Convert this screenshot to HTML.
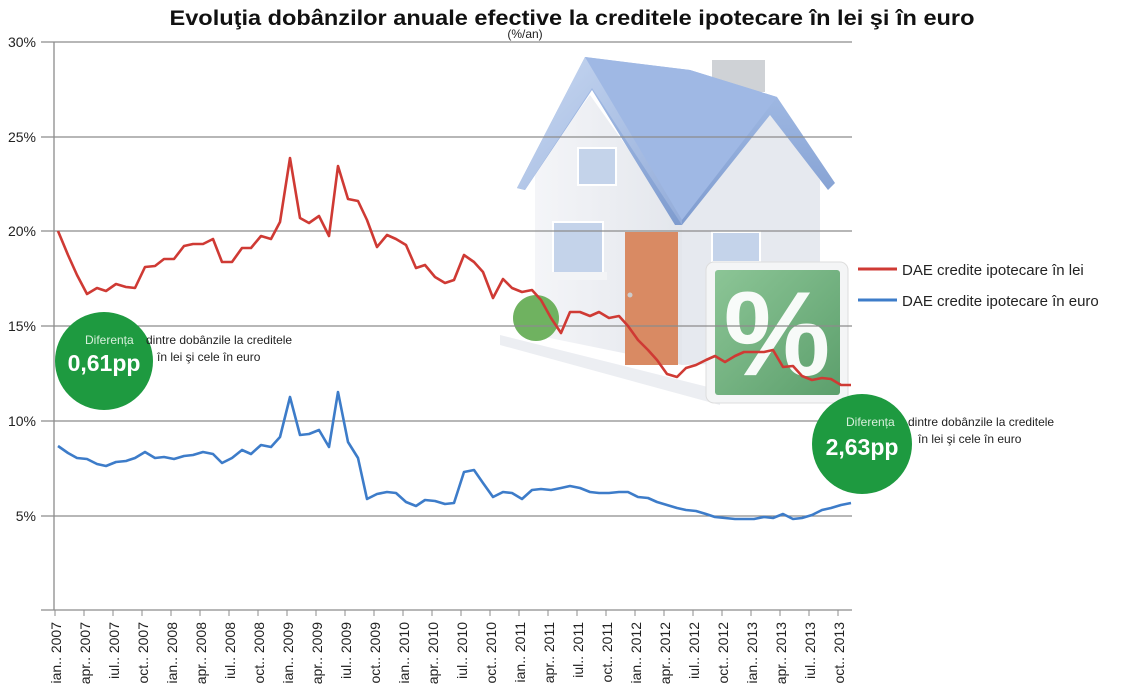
<!DOCTYPE html>
<html><head><meta charset="utf-8"><style>
html,body{margin:0;padding:0;background:#fff;}
svg{display:block;font-family:"Liberation Sans",sans-serif;}
</style></head><body>
<svg width="1127" height="700" viewBox="0 0 1127 700" xmlns="http://www.w3.org/2000/svg">
<defs>
<linearGradient id="roofL" x1="0" y1="0" x2="1" y2="1"><stop offset="0" stop-color="#c9d9f2"/><stop offset="1" stop-color="#93acd9"/></linearGradient>
<linearGradient id="roofR" x1="0" y1="0" x2="0" y2="1"><stop offset="0" stop-color="#a8c0e8"/><stop offset="1" stop-color="#7f9ccf"/></linearGradient>
<linearGradient id="grn" x1="0" y1="0" x2="1" y2="1"><stop offset="0" stop-color="#8cc596"/><stop offset="1" stop-color="#5c9f6c"/></linearGradient>
<linearGradient id="wall" x1="0" y1="0" x2="1" y2="0"><stop offset="0" stop-color="#f4f5f8"/><stop offset="1" stop-color="#e3e6ec"/></linearGradient>
</defs>
<text x="572" y="25" text-anchor="middle" font-size="21" font-weight="bold" textLength="805" lengthAdjust="spacingAndGlyphs" fill="#111">Evoluţia dobânzilor anuale efective la creditele ipotecare în lei şi în euro</text>
<text x="525" y="38" text-anchor="middle" font-size="12" fill="#222">(%/an)</text>

<!-- house -->
<g>
<polygon points="500,335 700,385 720,390 720,405 500,345" fill="#eceef2"/>
<polygon points="535,170 590,95 682,225 682,365 535,335" fill="url(#wall)"/>
<polygon points="682,225 770,110 820,180 820,360 682,365" fill="#e6e9ef"/>
<rect x="712" y="60" width="53" height="32" fill="#cfd2d6"/>
<polygon points="585,57 690,70 777,97 835,183 828,190 770,115 682,225 675,225 592,90 525,190 517,188" fill="url(#roofR)"/>
<polygon points="585,57 682,215 682,225 592,88 525,190 517,188" fill="url(#roofL)"/>
<polygon points="585,57 690,70 777,97 682,220" fill="#9fb8e4"/>
<rect x="578" y="148" width="38" height="37" fill="#c4d3ea" stroke="#fff" stroke-width="2"/>
<rect x="553" y="222" width="50" height="56" fill="#c4d3ea" stroke="#fff" stroke-width="2"/>
<rect x="547" y="272" width="60" height="8" fill="#f3f4f6"/>
<rect x="712" y="232" width="48" height="30" fill="#c4d3ea" stroke="#fff" stroke-width="2"/>
<rect x="625" y="232" width="53" height="133" fill="#d98a63"/>
<circle cx="630" cy="295" r="2.5" fill="#ccc"/>
<circle cx="536" cy="318" r="23" fill="#6fb260"/>
<rect x="706" y="262" width="142" height="141" rx="8" fill="#f4f5f6" stroke="#ddd"/>
<rect x="715" y="270" width="125" height="125" rx="3" fill="url(#grn)"/>
<text x="777" y="375" text-anchor="middle" font-size="120" font-weight="bold" fill="#fff" opacity="0.95">%</text>
</g>

<!-- grid -->
<g stroke="#8c8c8c" stroke-width="1.3">
<line x1="41" y1="42" x2="852" y2="42"/>
<line x1="41" y1="137" x2="852" y2="137"/>
<line x1="41" y1="231" x2="852" y2="231"/>
<line x1="41" y1="326" x2="852" y2="326"/>
<line x1="41" y1="421" x2="852" y2="421"/>
<line x1="41" y1="516" x2="852" y2="516"/>
<line x1="41" y1="610" x2="852" y2="610"/>
<line x1="54" y1="42" x2="54" y2="610"/>
</g>
<g font-size="14" fill="#222" text-anchor="end">
<text x="36" y="47">30%</text><text x="36" y="142">25%</text><text x="36" y="236">20%</text>
<text x="36" y="331">15%</text><text x="36" y="426">10%</text><text x="36" y="521">5%</text>
</g>

<polyline fill="none" stroke="#cf3a34" stroke-width="2.6" stroke-linejoin="round" points="58,231 68,255 77,275 87,294 97,288 106,291 116,284 126,287 135,288 145,267 155,266 164,259 174,259 184,246 193,244 203,244 213,239 222,262 232,262 242,248 251,248 261,236 271,239 280,222 290,158 300,218 309,223 319,216 329,236 338,166 348,199 358,201 367,220 377,247 387,235 396,239 406,245 416,268 425,265 435,277 445,283 454,280 464,255 474,262 483,272 493,298 503,279 512,288 522,292 532,290 541,300 551,318 561,333 570,312 580,312 590,316 599,312 609,318 619,316 628,326 638,340 648,350 657,360 667,374 677,377 686,368 696,365 706,360 715,356 725,362 735,356 744,352 754,352 764,352 773,350 783,367 793,366 802,376 812,380 822,378 831,379 841,385 851,385"/>
<polyline fill="none" stroke="#3d7cc9" stroke-width="2.6" stroke-linejoin="round" points="58,446 68,453 77,458 87,459 97,464 106,466 116,462 126,461 135,458 145,452 155,458 164,457 174,459 184,456 193,455 203,452 213,454 222,463 232,458 242,450 251,454 261,445 271,447 280,437 290,397 300,435 309,434 319,430 329,447 338,392 348,442 358,458 367,499 377,494 387,492 396,493 406,502 416,506 425,500 435,501 445,504 454,503 464,472 474,470 483,483 493,497 503,492 512,493 522,499 532,490 541,489 551,490 561,488 570,486 580,488 590,492 599,493 609,493 619,492 628,492 638,497 648,498 657,502 667,505 677,508 686,510 696,511 706,514 715,517 725,518 735,519 744,519 754,519 764,517 773,518 783,514 793,519 802,518 812,515 822,510 831,508 841,505 851,503"/>

<!-- x ticks & labels -->
<g stroke="#8c8c8c" stroke-width="1">
<line x1="55" y1="610" x2="55" y2="616"/><line x1="84" y1="610" x2="84" y2="616"/><line x1="113" y1="610" x2="113" y2="616"/><line x1="142" y1="610" x2="142" y2="616"/><line x1="171" y1="610" x2="171" y2="616"/><line x1="200" y1="610" x2="200" y2="616"/><line x1="229" y1="610" x2="229" y2="616"/><line x1="258" y1="610" x2="258" y2="616"/><line x1="287" y1="610" x2="287" y2="616"/><line x1="316" y1="610" x2="316" y2="616"/><line x1="345" y1="610" x2="345" y2="616"/><line x1="374" y1="610" x2="374" y2="616"/><line x1="403" y1="610" x2="403" y2="616"/><line x1="432" y1="610" x2="432" y2="616"/><line x1="461" y1="610" x2="461" y2="616"/><line x1="490" y1="610" x2="490" y2="616"/><line x1="519" y1="610" x2="519" y2="616"/><line x1="548" y1="610" x2="548" y2="616"/><line x1="577" y1="610" x2="577" y2="616"/><line x1="606" y1="610" x2="606" y2="616"/><line x1="635" y1="610" x2="635" y2="616"/><line x1="664" y1="610" x2="664" y2="616"/><line x1="693" y1="610" x2="693" y2="616"/><line x1="722" y1="610" x2="722" y2="616"/><line x1="751" y1="610" x2="751" y2="616"/><line x1="780" y1="610" x2="780" y2="616"/><line x1="809" y1="610" x2="809" y2="616"/><line x1="838" y1="610" x2="838" y2="616"/>
</g>
<g font-size="14" fill="#222" text-anchor="end">
<text transform="translate(61,622) rotate(-90)">ian.. 2007</text>
<text transform="translate(90,622) rotate(-90)">apr.. 2007</text>
<text transform="translate(119,622) rotate(-90)">iul.. 2007</text>
<text transform="translate(148,622) rotate(-90)">oct.. 2007</text>
<text transform="translate(177,622) rotate(-90)">ian.. 2008</text>
<text transform="translate(206,622) rotate(-90)">apr.. 2008</text>
<text transform="translate(235,622) rotate(-90)">iul.. 2008</text>
<text transform="translate(264,622) rotate(-90)">oct.. 2008</text>
<text transform="translate(293,622) rotate(-90)">ian.. 2009</text>
<text transform="translate(322,622) rotate(-90)">apr.. 2009</text>
<text transform="translate(351,622) rotate(-90)">iul.. 2009</text>
<text transform="translate(380,622) rotate(-90)">oct.. 2009</text>
<text transform="translate(409,622) rotate(-90)">ian.. 2010</text>
<text transform="translate(438,622) rotate(-90)">apr.. 2010</text>
<text transform="translate(467,622) rotate(-90)">iul.. 2010</text>
<text transform="translate(496,622) rotate(-90)">oct.. 2010</text>
<text transform="translate(525,622) rotate(-90)">ian.. 2011</text>
<text transform="translate(554,622) rotate(-90)">apr.. 2011</text>
<text transform="translate(583,622) rotate(-90)">iul.. 2011</text>
<text transform="translate(612,622) rotate(-90)">oct.. 2011</text>
<text transform="translate(641,622) rotate(-90)">ian.. 2012</text>
<text transform="translate(670,622) rotate(-90)">apr.. 2012</text>
<text transform="translate(699,622) rotate(-90)">iul.. 2012</text>
<text transform="translate(728,622) rotate(-90)">oct.. 2012</text>
<text transform="translate(757,622) rotate(-90)">ian.. 2013</text>
<text transform="translate(786,622) rotate(-90)">apr.. 2013</text>
<text transform="translate(815,622) rotate(-90)">iul.. 2013</text>
<text transform="translate(844,622) rotate(-90)">oct.. 2013</text>
</g>

<!-- legend -->
<line x1="858" y1="269" x2="897" y2="269" stroke="#cf3a34" stroke-width="3"/>
<text x="902" y="275" font-size="15" fill="#222">DAE credite ipotecare în lei</text>
<line x1="858" y1="300" x2="897" y2="300" stroke="#3d7cc9" stroke-width="3"/>
<text x="902" y="306" font-size="15" fill="#222">DAE credite ipotecare în euro</text>

<!-- circles -->
<circle cx="104" cy="361" r="49" fill="#1e9a40"/>
<text x="85" y="344" font-size="12" fill="#d8f0dc">Diferența</text>
<text x="146" y="344" font-size="12" fill="#222">dintre dobânzile la creditele</text>
<text x="157" y="361" font-size="12" fill="#222">în lei şi cele în euro</text>
<text x="104" y="371" text-anchor="middle" font-size="23" font-weight="bold" fill="#fff">0,61pp</text>

<circle cx="862" cy="444" r="50" fill="#1e9a40"/>
<text x="846" y="426" font-size="12" fill="#d8f0dc">Diferența</text>
<text x="908" y="426" font-size="12" fill="#222">dintre dobânzile la creditele</text>
<text x="918" y="443" font-size="12" fill="#222">în lei şi cele în euro</text>
<text x="862" y="455" text-anchor="middle" font-size="23" font-weight="bold" fill="#fff">2,63pp</text>
</svg>
</body></html>
